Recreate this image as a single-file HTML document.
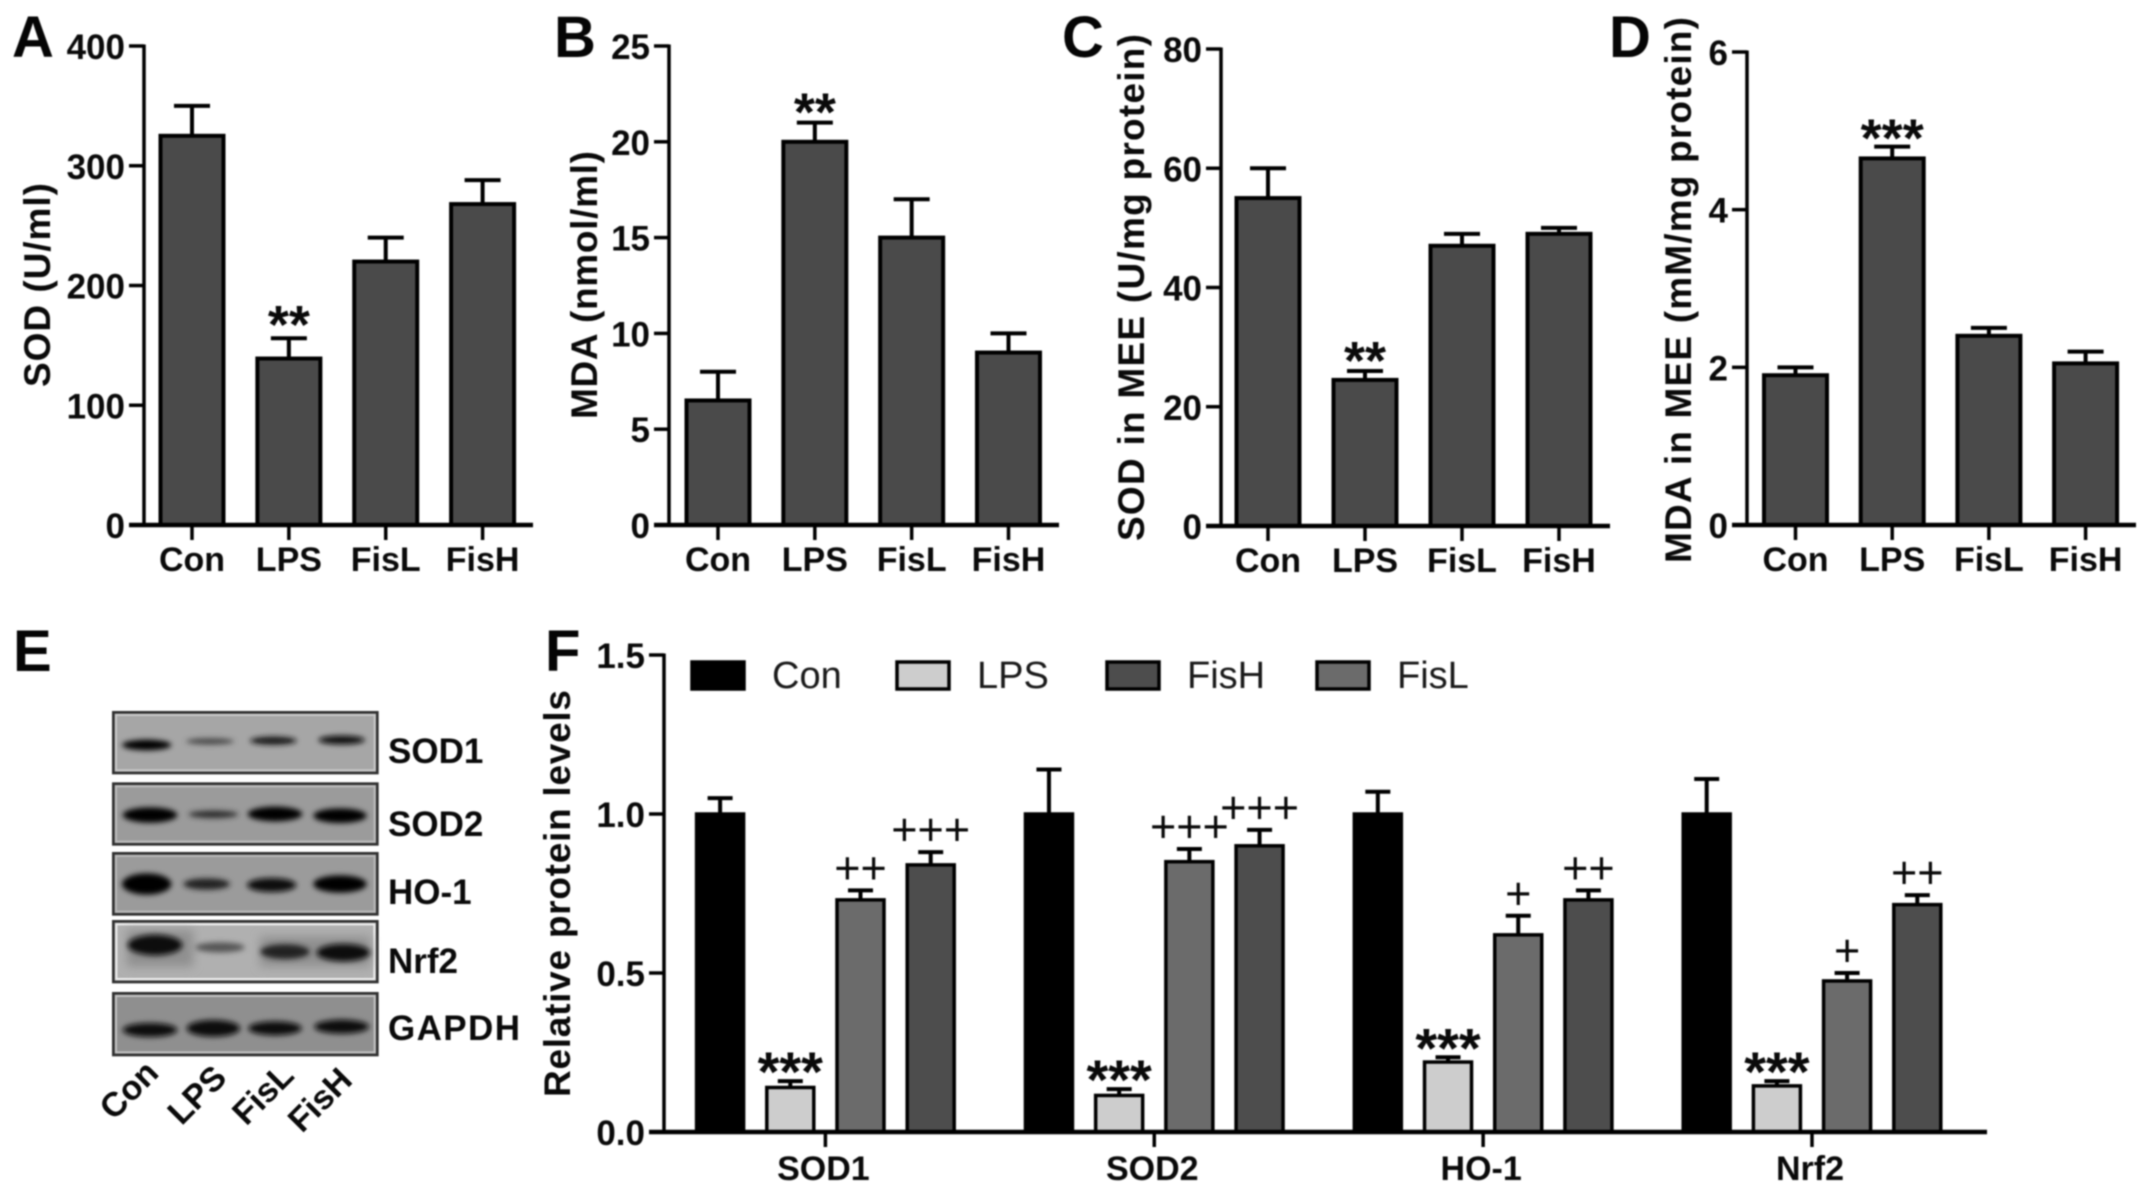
<!DOCTYPE html>
<html lang="en">
<head>
<meta charset="utf-8">
<title>Antioxidant panels</title>
<style>
html,body{margin:0;padding:0;background:#fff;}
#figure{display:block;width:2150px;height:1194px;font-family:"Liberation Sans",sans-serif;filter:blur(0.7px);}
</style>
</head>
<body>
<svg id="figure" xmlns="http://www.w3.org/2000/svg" width="2150" height="1194" viewBox="0 0 2150 1194">
  <defs>
    <filter id="band-blur" x="-30%" y="-60%" width="160%" height="220%"><feGaussianBlur stdDeviation="8"/></filter>
    <filter id="smudge-blur" x="-30%" y="-60%" width="160%" height="220%"><feGaussianBlur stdDeviation="14"/></filter>
  </defs>
  <g id="blot" transform="translate(90 690) scale(0.33333)">
    <g>
      <rect x="70" y="67" width="792" height="182" fill="#a6a6a6" stroke="#303030" stroke-width="8"/>
      <rect x="78" y="75" width="776" height="166" fill="none" stroke="#c9c9c9" stroke-width="6"/>
      <g filter="url(#band-blur)" fill="#050505">
        <ellipse cx="170" cy="165" rx="74" ry="16"/>
        <ellipse cx="360" cy="154" rx="72" ry="9" fill="#444"/>
        <ellipse cx="550" cy="152" rx="70" ry="12" fill="#161616"/>
        <ellipse cx="755" cy="150" rx="70" ry="13" fill="#101010"/>
      </g>
    </g>
    <g>
      <rect x="70" y="281" width="792" height="182" fill="#9b9b9b" stroke="#303030" stroke-width="8"/>
      <rect x="78" y="289" width="776" height="166" fill="none" stroke="#bcbcbc" stroke-width="6"/>
      <g filter="url(#band-blur)" fill="#000">
        <ellipse cx="180" cy="375" rx="82" ry="23"/>
        <ellipse cx="370" cy="373" rx="74" ry="11" fill="#2b2b2b"/>
        <ellipse cx="555" cy="372" rx="82" ry="22"/>
        <ellipse cx="750" cy="377" rx="80" ry="22"/>
      </g>
    </g>
    <g>
      <rect x="70" y="490" width="792" height="183" fill="#9b9b9b" stroke="#303030" stroke-width="8"/>
      <rect x="78" y="498" width="776" height="167" fill="none" stroke="#b8b8b8" stroke-width="6"/>
      <g filter="url(#band-blur)" fill="#000">
        <ellipse cx="170" cy="582" rx="74" ry="32"/>
        <ellipse cx="350" cy="582" rx="70" ry="17" fill="#222"/>
        <ellipse cx="545" cy="585" rx="74" ry="21" fill="#0b0b0b"/>
        <ellipse cx="750" cy="582" rx="80" ry="26"/>
      </g>
    </g>
    <g>
      <rect x="70" y="694" width="792" height="182" fill="#b0b0b0" stroke="#303030" stroke-width="8"/>
      <rect x="79" y="703" width="774" height="164" fill="none" stroke="#eeeeee" stroke-width="6"/>
      <g filter="url(#smudge-blur)" fill="#8f8f8f">
        <rect x="110" y="720" width="200" height="110"/>
        <rect x="510" y="740" width="330" height="90"/>
      </g>
      <g filter="url(#band-blur)" fill="#0c0c0c">
        <ellipse cx="195" cy="765" rx="82" ry="31"/>
        <ellipse cx="390" cy="772" rx="74" ry="15" fill="#555"/>
        <ellipse cx="585" cy="785" rx="74" ry="22" fill="#202020"/>
        <ellipse cx="760" cy="788" rx="80" ry="26"/>
      </g>
    </g>
    <g>
      <rect x="70" y="910" width="792" height="185" fill="#8f8f8f" stroke="#303030" stroke-width="8"/>
      <rect x="78" y="918" width="776" height="169" fill="none" stroke="#c2c2c2" stroke-width="6"/>
      <g filter="url(#band-blur)" fill="#0a0a0a">
        <ellipse cx="180" cy="1020" rx="82" ry="21"/>
        <ellipse cx="370" cy="1015" rx="80" ry="25"/>
        <ellipse cx="555" cy="1015" rx="80" ry="21"/>
        <ellipse cx="755" cy="1010" rx="82" ry="21"/>
      </g>
    </g>
  </g>
  <g font-family="'Liberation Sans',sans-serif" font-weight="bold" font-size="35" fill="#0a0a0a">
    <text x="388" y="763">SOD1</text>
    <text x="388" y="836">SOD2</text>
    <text x="388" y="904">HO-1</text>
    <text x="388" y="973">Nrf2</text>
    <text x="388" y="1040" textLength="132" lengthAdjust="spacing">GAPDH</text>
  </g>
  <g font-family="'Liberation Sans',sans-serif" font-weight="bold" font-size="34" fill="#0a0a0a" text-anchor="middle">
    <text transform="translate(137 1098) rotate(-45)">Con</text>
    <text transform="translate(205 1103) rotate(-45)">LPS</text>
    <text transform="translate(271 1102) rotate(-45)">FisL</text>
    <text transform="translate(328 1108) rotate(-45)">FisH</text>
  </g>
  <g font-family="'Liberation Sans',sans-serif" font-weight="bold" font-size="58" fill="#050505">
    <text x="12" y="57">A</text>
    <text x="554" y="57">B</text>
    <text x="1062" y="57">C</text>
    <text x="1609" y="57">D</text>
    <text x="13" y="671">E</text>
    <text x="545" y="671">F</text>
  </g>
  <g id="plots"></g>
</svg>
<script>
// ---- data ----
const categories = ['Con', 'LPS', 'FisL', 'FisH'];

const sodSerumTicks = [0, 100, 200, 300, 400];
const sodSerumValues = [325, 139, 220, 268];
const sodSerumErrors = [25, 17, 20, 20];
const sodSerumMarks = ['', '**', '', ''];

const mdaSerumTicks = [0, 5, 10, 15, 20, 25];
const mdaSerumValues = [6.5, 20, 15, 9];
const mdaSerumErrors = [1.5, 1, 2, 1];
const mdaSerumMarks = ['', '**', '', ''];

const sodMeeTicks = [0, 20, 40, 60, 80];
const sodMeeValues = [55, 24.5, 47, 49];
const sodMeeErrors = [5, 1.5, 2, 1];
const sodMeeMarks = ['', '**', '', ''];

const mdaMeeTicks = [0, 2, 4, 6];
const mdaMeeValues = [1.9, 4.65, 2.4, 2.05];
const mdaMeeErrors = [0.1, 0.15, 0.1, 0.15];
const mdaMeeMarks = ['', '***', '', ''];

const proteinGroups = ['SOD1', 'SOD2', 'HO-1', 'Nrf2'];
const proteinTicks = ['0.0', '0.5', '1.0', '1.5'];
const proteinSeries = ['Con', 'LPS', 'FisL', 'FisH'];
const proteinCon = [1, 1, 1, 1];
const proteinLps = [0.14, 0.115, 0.22, 0.145];
const proteinFisL = [0.73, 0.85, 0.62, 0.475];
const proteinFisH = [0.84, 0.9, 0.73, 0.715];
const proteinConErr = [0.05, 0.14, 0.07, 0.11];
const proteinLpsErr = [0.02, 0.02, 0.015, 0.015];
const proteinFisLErr = [0.03, 0.04, 0.06, 0.025];
const proteinFisHErr = [0.04, 0.05, 0.03, 0.03];
const proteinLpsMarks = ['***', '***', '***', '***'];
const proteinFisLMarks = ['++', '+++', '+', '+'];
const proteinFisHMarks = ['+++', '+++', '++', '++'];
const legendOrder = ['Con', 'LPS', 'FisH', 'FisL'];

// ---- drawing ----
const NS = 'http://www.w3.org/2000/svg';
const plots = document.getElementById('plots');

function make(parent, tag, props, content) {
  const el = document.createElementNS(NS, tag);
  for (const k in props) el.setAttribute(k, props[k]);
  if (content !== undefined) el.textContent = content;
  parent.appendChild(el);
  return el;
}

function linear(d0, d1, r0, r1) {
  return function (v) { return r0 + (v - d0) * (r1 - r0) / (d1 - d0); };
}

function drawSimplePanel(cfg) {
  const g = make(plots, 'g', {});
  
  
  const ticks = cfg.ticks;
  const y = linear(ticks[0], ticks[ticks.length - 1], cfg.y0, cfg.y1);
  const x = linear(0, categories.length - 1, cfg.x0, cfg.x3);
  const barW = 63;

  categories.forEach(function (cat, i) {
    const cx = x(i);
    const top = y(cfg.values[i]);
    const errTop = y(cfg.values[i] + cfg.errors[i]);
    const err = make(g, 'path', {
      d: 'M' + cx + ' ' + top + 'V' + errTop + 'M' + (cx - 18) + ' ' + errTop + 'H' + (cx + 18),
      stroke: '#000', 'stroke-width': 4, fill: 'none'
    });
    
    
    const bar = make(g, 'rect', {
      x: cx - barW / 2, y: top, width: barW, height: cfg.y0 - top,
      fill: '#4a4a4a', stroke: '#000', 'stroke-width': 4
    });
    
    
    if (cfg.marks[i]) {
      const star = make(g, 'text', {
        x: cx, y: errTop + cfg.starGap, 'text-anchor': 'middle',
        'font-size': 54, 'font-weight': 'bold', fill: '#0a0a0a'
      }, cfg.marks[i]);
      
      
    }
    const tick = make(g, 'line', {
      x1: cx, x2: cx, y1: cfg.y0, y2: cfg.y0 + 15, stroke: '#000', 'stroke-width': 3.5
    });
    
    
    const lab = make(g, 'text', {
      x: cx, y: cfg.y0 + 46, 'text-anchor': 'middle',
      'font-size': 34, 'font-weight': 'bold', fill: '#0a0a0a'
    }, cat);
    
    
  });

  ticks.forEach(function (t) {
    const ty = y(t);
    const tl = make(g, 'line', {
      x1: cfg.axisX - 15, x2: cfg.axisX, y1: ty, y2: ty, stroke: '#000', 'stroke-width': 3.5
    });
    
    
    const lab = make(g, 'text', {
      x: cfg.axisX - 19, y: ty + 13, 'text-anchor': 'end',
      'font-size': 35, 'font-weight': 'bold', fill: '#0a0a0a'
    }, String(t));
    
    
  });

  const yAxis = make(g, 'line', {
    x1: cfg.axisX, x2: cfg.axisX, y1: cfg.y1 - 1.5, y2: cfg.y0 + 2, stroke: '#000', 'stroke-width': 3.5
  });
  
  
  const xAxis = make(g, 'line', {
    x1: cfg.axisX - 15, x2: cfg.axisEnd, y1: cfg.y0, y2: cfg.y0, stroke: '#000', 'stroke-width': 4.5
  });
  
  

  const title = make(g, 'text', {
    transform: 'translate(' + cfg.titleX + ' ' + cfg.titleBottom + ') rotate(-90)',
    'font-size': 37, 'font-weight': 'bold', fill: '#0a0a0a',
    textLength: cfg.titleLen, lengthAdjust: 'spacing'
  }, cfg.title);
  
  
}

drawSimplePanel({ id: 'panel-a', title: 'SOD (U/ml)', ticks: sodSerumTicks, values: sodSerumValues,
  errors: sodSerumErrors, marks: sodSerumMarks, axisX: 144, axisEnd: 533, y0: 525, y1: 46,
  x0: 192, x3: 482.6, starGap: 5, titleX: 50, titleBottom: 387, titleLen: 204 });
drawSimplePanel({ id: 'panel-b', title: 'MDA (nmol/ml)', ticks: mdaSerumTicks, values: mdaSerumValues,
  errors: mdaSerumErrors, marks: mdaSerumMarks, axisX: 669, axisEnd: 1059, y0: 525, y1: 46,
  x0: 718, x3: 1008.5, starGap: 8, titleX: 597, titleBottom: 419, titleLen: 268 });
drawSimplePanel({ id: 'panel-c', title: 'SOD in MEE (U/mg protein)', ticks: sodMeeTicks, values: sodMeeValues,
  errors: sodMeeErrors, marks: sodMeeMarks, axisX: 1221, axisEnd: 1610, y0: 526, y1: 49,
  x0: 1268, x3: 1559, starGap: 8, titleX: 1144, titleBottom: 541, titleLen: 507 });
drawSimplePanel({ id: 'panel-d', title: 'MDA in MEE (mM/mg protein)', ticks: mdaMeeTicks, values: mdaMeeValues,
  errors: mdaMeeErrors, marks: mdaMeeMarks, axisX: 1747, axisEnd: 2136, y0: 525, y1: 52,
  x0: 1795.5, x3: 2085.6, starGap: 10, titleX: 1691, titleBottom: 563, titleLen: 546 });

// Panel F: grouped bars
(function () {
  const g = make(plots, 'g', {});
  
  
  const axisX = 664, y0 = 1132, y1 = 655;
  const y = linear(0, 1.5, y0, y1);
  const gx = linear(0, proteinGroups.length - 1, 825.4, 1812);
  const seriesValues = [proteinCon, proteinLps, proteinFisL, proteinFisH];
  const seriesErrors = [proteinConErr, proteinLpsErr, proteinFisLErr, proteinFisHErr];
  const seriesFill = ['#000000', '#cdcdcd', '#6b6b6b', '#4d4d4d'];
  const barStep = 70.2, barW = 47;

  proteinGroups.forEach(function (group, gi) {
    const gc = gx(gi);
    proteinSeries.forEach(function (s, si) {
      const cx = gc + (si - 1.5) * barStep;
      const v = seriesValues[si][gi];
      const top = y(v);
      const errTop = y(v + seriesErrors[si][gi]);
      const err = make(g, 'path', {
        d: 'M' + cx + ' ' + top + 'V' + errTop + 'M' + (cx - 12.5) + ' ' + errTop + 'H' + (cx + 12.5),
        stroke: '#000', 'stroke-width': 4, fill: 'none'
      });
      
      
      const bar = make(g, 'rect', {
        x: cx - barW / 2, y: top, width: barW, height: y0 - top,
        fill: seriesFill[si], stroke: '#000', 'stroke-width': 3.5
      });
      
      
      let mark = '';
      let isStar = false;
      if (si === 1) { mark = proteinLpsMarks[gi]; isStar = true; }
      if (si === 2) mark = proteinFisLMarks[gi];
      if (si === 3) mark = proteinFisHMarks[gi];
      if (mark) {
        const m = make(g, 'text', {
          x: cx, y: errTop + (isStar ? 10 : -7), 'text-anchor': 'middle',
          'font-size': isStar ? 56 : 45, 'font-weight': isStar ? 'bold' : 'normal', fill: '#0a0a0a'
        }, mark);
        
        
      }
    });
    const tick = make(g, 'line', { x1: gc, x2: gc, y1: y0, y2: y0 + 15, stroke: '#000', 'stroke-width': 3.5 });
    
    
    const lab = make(g, 'text', {
      x: gc - 2, y: y0 + 48, 'text-anchor': 'middle', 'font-size': 34, 'font-weight': 'bold', fill: '#0a0a0a'
    }, group);
    
    
  });

  proteinTicks.forEach(function (t) {
    const ty = y(parseFloat(t));
    const tl = make(g, 'line', { x1: axisX - 15, x2: axisX, y1: ty, y2: ty, stroke: '#000', 'stroke-width': 3.5 });
    
    
    const lab = make(g, 'text', {
      x: axisX - 19, y: ty + 13, 'text-anchor': 'end', 'font-size': 35, 'font-weight': 'bold', fill: '#0a0a0a'
    }, t);
    
    
  });

  const yAxis = make(g, 'line', { x1: axisX, x2: axisX, y1: y1 - 1.5, y2: y0 + 2, stroke: '#000', 'stroke-width': 3.5 });
  
  
  const xAxis = make(g, 'line', { x1: axisX - 15, x2: 1987, y1: y0, y2: y0, stroke: '#000', 'stroke-width': 4.5 });
  
  

  const title = make(g, 'text', {
    transform: 'translate(570 1097) rotate(-90)', 'font-size': 37, 'font-weight': 'bold', fill: '#0a0a0a',
    textLength: 407, lengthAdjust: 'spacing'
  }, 'Relative protein levels');
  
  

  // legend: swatch left edges step across the top of the plot
  const legendLeft = [692, 897, 1107, 1317];
  legendOrder.forEach(function (s, i) {
    const si = proteinSeries.indexOf(s);
    const sw = make(g, 'rect', {
      x: legendLeft[i], y: 662, width: 52, height: 27, fill: seriesFill[si], stroke: '#000', 'stroke-width': 3.5
    });
    
    
    const lab = make(g, 'text', {
      x: legendLeft[i] + 80, y: 688, 'font-size': 38, fill: '#1a1a1a'
    }, s);
    
    
  });
})();
</script>
</body>
</html>
